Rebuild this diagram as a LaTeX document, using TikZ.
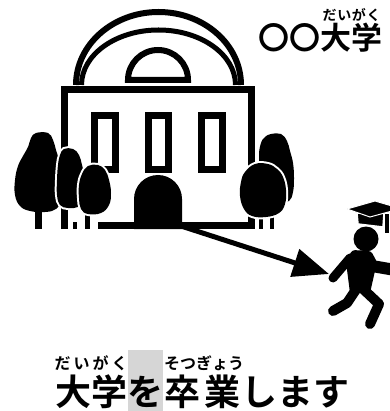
\documentclass[tikz,border=0pt]{standalone}
\usepackage{fontspec}
\usetikzlibrary{positioning,arrows.meta}

\newfontfamily\jp{Noto Sans CJK JP}[BoldFont={Noto Sans CJK JP Bold}]
\definecolor{hilite}{RGB}{214,214,214}

% ruby text stretched over its base
\newcommand{\furi}[2]{\makebox[#1][s]{#2}}

\begin{document}
\begin{tikzpicture}[x=1pt,y=-1pt,
	wall/.style={line width=7pt},
	crown/.style={preaction={draw=white,line width=4pt}},
	limb/.style={line width=10pt,line cap=round,line join=round},
	pointer/.style={line width=5pt,-{Triangle[length=36pt,width=28pt]}},
	title/.style={inner sep=0pt,font={\jp\bfseries\fontsize{31pt}{31pt}\selectfont}},
	word/.style={inner sep=0pt,font={\jp\bfseries\fontsize{36pt}{36pt}\selectfont}},
	rubysmall/.style={inner sep=0pt,font={\jp\bfseries\fontsize{14pt}{14pt}\selectfont}},
	ruby/.style={inner sep=0pt,font={\jp\bfseries\fontsize{16pt}{16pt}\selectfont}}]

	\useasboundingbox (0,0) rectangle (389,411);

	\coordinate (exit) at (181,226);
	\coordinate (runner) at (329,274);

	% dome and lunette
	\draw[line width=6pt] (76,85) arc[start angle=180,end angle=360,x radius=82.5,y radius=73];
	\draw[line width=5pt] (81.5,85) arc[start angle=180,end angle=360,x radius=77,y radius=55];
	\draw[line width=6pt] (128,80) arc[start angle=180,end angle=360,radius=30] -- cycle;

	% walls, windows, door
	\draw[wall] (64.5,229) -- (64.5,89.5) -- (251.5,89.5) -- (251.5,229);
	\draw[wall] (98,225.5) -- (255,225.5);
	\foreach \x in {94.5,148,201.5}
		\draw[wall] (\x,115.5) rectangle ++(20.5,54);
	\fill (134,229) -- (134,199) arc[start angle=180,end angle=360,radius=24] -- (182,229) -- cycle;

	% trunks
	\fill (35,205) rectangle (42,229);
	\fill (73,222) rectangle (77,229);
	\fill (85,212) rectangle (90,229);
	\fill (259,212) rectangle (263,229);
	\fill (270,212) rectangle (274,229);

	% trees on the left
	\fill plot[smooth cycle,tension=0.7] coordinates {(36,133) (48,133) (53,140) (56,150) (59,160) (61,172)
		(62,186) (61,200) (56,209) (45,212) (30,211) (20,206) (15,195) (15,180) (18,166) (23,156) (28,147) (31,138)};
	\fill[crown] plot[smooth cycle,tension=0.7] coordinates {(64,149) (73,149) (79,155) (82,165) (85,178)
		(86,190) (84,201) (78,207) (68,208) (60,205) (57,195) (57,180) (58,165) (60,155)};
	\fill[crown] plot[smooth cycle,tension=0.7] coordinates {(88,166) (98,165) (105,170) (109,180) (111,193)
		(109,205) (101,213) (88,214) (81,209) (79,198) (79,185) (82,174)};

	% trees on the right
	\fill plot[smooth cycle,tension=0.7] coordinates {(271,134) (281,134) (287,141) (290,151) (293,163)
		(294,178) (293,192) (289,201) (280,200) (270,185) (261,168) (259,155) (261,143) (265,137)};
	\fill[crown] plot[smooth cycle,tension=0.7] coordinates {(255,164) (268,164) (277,169) (283,177) (286,190)
		(285,204) (279,213) (266,217) (252,216) (244,209) (240,196) (241,182) (245,172)};

	% graduate
	\fill (366,239) circle (12.5pt);
	\filldraw[draw=white,line width=1.5pt] (357,213) -- (384,213) -- (383,227) -- (358,224) -- cycle;
	\filldraw[draw=white,line width=1pt] (347,209) -- (375,201) -- (392,206) -- (392,211) -- (370,217) -- cycle;
	\fill (385,214) rectangle (389,233);
	\fill[rounded corners=3pt] (352,250) -- (371,251) -- (377,262) -- (370,293) -- (350,293) -- (346,262) -- cycle;
	\draw[limb,line width=9pt] (350,258) -- (333,278);
	\draw[limb,line width=12pt] (372,266) -- (395,270);
	\draw[limb] (357,288) -- (347,303) -- (333,311);
	\draw[limb] (362,288) -- (379,304) -- (370,324);

	\draw[pointer] (exit) -- (runner);

	% name of the university
	\node[title,anchor=base west] (marks) at (258,50) {〇〇};
	\node[title,base right=0pt of marks] (uniname) {大学};
	\node[rubysmall,above=1pt of uniname] (uniruby) {\furi{58pt}{だ\hfil い\hfil が\hfil く}};

	% sentence
	\fill[hilite] (127.5,350) rectangle (162.5,411);
	\node[word,anchor=base west] (daigaku) at (55,405) {大学};
	\node[word,base right=0pt of daigaku] (wo) {を};
	\node[word,base right=0pt of wo] (sotsugyo) {\furi{77pt}{卒\hfil 業}};
	\node[word,base right=0pt of sotsugyo] (shimasu) {します};
	\node[ruby,above=3pt of daigaku] (daigakuruby) {\furi{73pt}{だ\hfil い\hfil が\hfil く}};
	\node[ruby,above=3pt of sotsugyo] (sotsugyoruby) {\furi{77pt}{そ\hfil つ\hfil ぎ\hfil ょ\hfil う}};

\end{tikzpicture}
\end{document}
